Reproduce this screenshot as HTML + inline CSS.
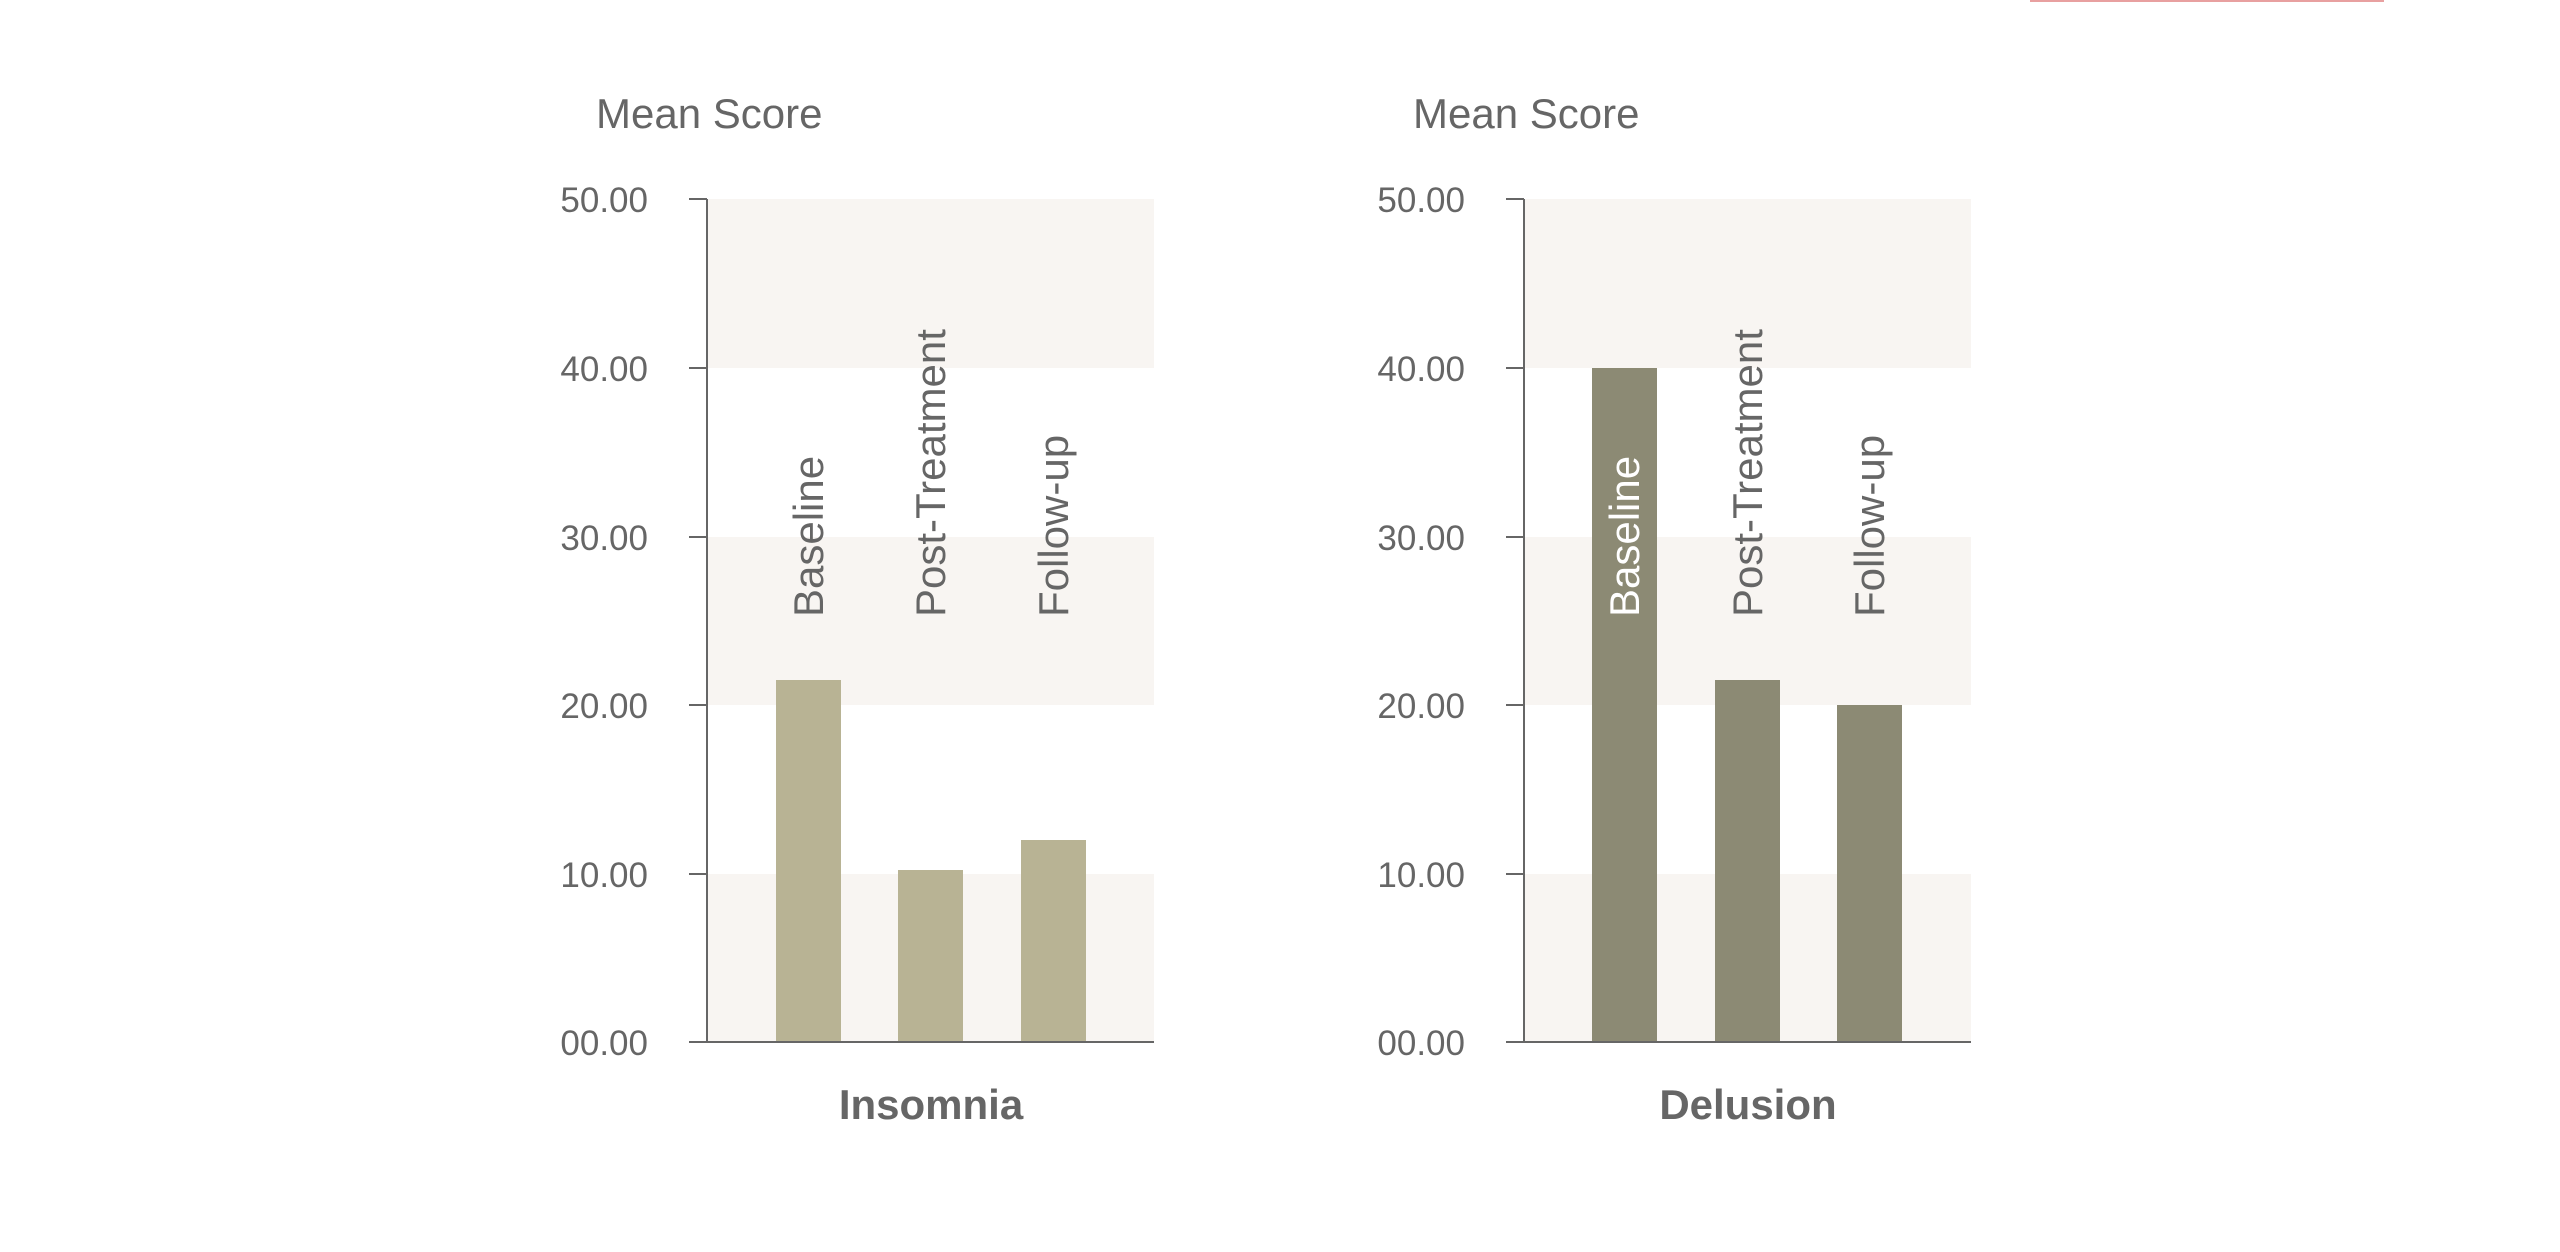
<!DOCTYPE html>
<html><head><meta charset="utf-8"><style>
body{margin:0;background:#fff;}
svg{display:block}
text{font-family:"Liberation Sans",sans-serif;fill:#666}
</style></head><body>
<svg width="2560" height="1252" viewBox="0 0 2560 1252">
<rect x="2030" y="0" width="354" height="2" fill="#e8a0a0"/>
<g>
<rect x="707" y="199" width="447" height="169" fill="#f8f5f2"/>
<rect x="707" y="537" width="447" height="168" fill="#f8f5f2"/>
<rect x="707" y="874" width="447" height="168" fill="#f8f5f2"/>
<rect x="776" y="680" width="65" height="362" fill="#b8b394"/>
<rect x="898" y="870" width="65" height="172" fill="#b8b394"/>
<rect x="1021" y="840" width="65" height="202" fill="#b8b394"/>
<line x1="707" y1="199" x2="707" y2="1043" stroke="#666" stroke-width="2"/>
<line x1="689" y1="1042" x2="1154" y2="1042" stroke="#666" stroke-width="2"/>
<g stroke="#666" stroke-width="2"><line x1="689" y1="199" x2="707" y2="199"/><line x1="689" y1="368" x2="707" y2="368"/><line x1="689" y1="537" x2="707" y2="537"/><line x1="689" y1="705" x2="707" y2="705"/><line x1="689" y1="874" x2="707" y2="874"/></g>
<g font-size="35" text-anchor="end">
<text x="648" y="212">50.00</text><text x="648" y="381">40.00</text><text x="648" y="550">30.00</text><text x="648" y="718">20.00</text><text x="648" y="887">10.00</text><text x="648" y="1055">00.00</text></g>
<text x="596" y="128" font-size="42">Mean Score</text>
<g font-size="42">
<text transform="translate(823,617) rotate(-90)">Baseline</text>
<text transform="translate(945,617) rotate(-90)">Post-Treatment</text>
<text transform="translate(1068,617) rotate(-90)">Follow-up</text></g>
<text x="931" y="1119" font-size="42" font-weight="bold" text-anchor="middle">Insomnia</text>
</g>
<g>
<rect x="1524" y="199" width="447" height="169" fill="#f8f5f2"/>
<rect x="1524" y="537" width="447" height="168" fill="#f8f5f2"/>
<rect x="1524" y="874" width="447" height="168" fill="#f8f5f2"/>
<rect x="1592" y="368" width="65" height="674" fill="#8c8a74"/>
<rect x="1715" y="680" width="65" height="362" fill="#8c8a74"/>
<rect x="1837" y="705" width="65" height="337" fill="#8c8a74"/>
<line x1="1524" y1="199" x2="1524" y2="1043" stroke="#666" stroke-width="2"/>
<line x1="1506" y1="1042" x2="1971" y2="1042" stroke="#666" stroke-width="2"/>
<g stroke="#666" stroke-width="2"><line x1="1506" y1="199" x2="1524" y2="199"/><line x1="1506" y1="368" x2="1524" y2="368"/><line x1="1506" y1="537" x2="1524" y2="537"/><line x1="1506" y1="705" x2="1524" y2="705"/><line x1="1506" y1="874" x2="1524" y2="874"/></g>
<g font-size="35" text-anchor="end">
<text x="1465" y="212">50.00</text><text x="1465" y="381">40.00</text><text x="1465" y="550">30.00</text><text x="1465" y="718">20.00</text><text x="1465" y="887">10.00</text><text x="1465" y="1055">00.00</text></g>
<text x="1413" y="128" font-size="42">Mean Score</text>
<g font-size="42">
<text transform="translate(1639,617) rotate(-90)" style="fill:#fff">Baseline</text>
<text transform="translate(1762,617) rotate(-90)">Post-Treatment</text>
<text transform="translate(1884,617) rotate(-90)">Follow-up</text></g>
<text x="1748" y="1119" font-size="42" font-weight="bold" text-anchor="middle">Delusion</text>
</g>
</svg>
</body></html>
